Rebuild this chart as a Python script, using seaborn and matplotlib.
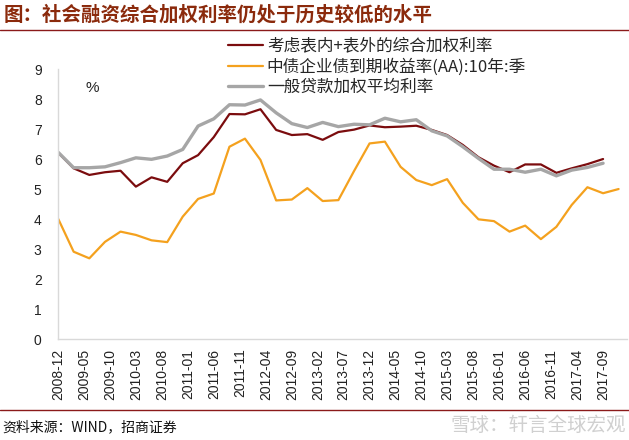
import matplotlib
matplotlib.use("Agg")
import matplotlib.pyplot as plt
from matplotlib.lines import Line2D
import pandas as pd
import seaborn as sns

# quarterly data, 2008-12 .. 2017-12
quarters = pd.date_range("2008-12-01", "2017-12-01", freq="3MS")

total_rate = [6.21, 5.69, 5.47, 5.56, 5.61, 5.08, 5.39, 5.24, 5.86, 6.13,
              6.73, 7.50, 7.49, 7.66, 6.97, 6.80, 6.83, 6.64, 6.90, 6.98,
              7.12, 7.06, 7.08, 7.11, 6.97, 6.80, 6.47, 6.06, 5.78, 5.56,
              5.82, 5.82, 5.54, 5.69, 5.83, 6.00]
bond_yield = [4.00, 2.91, 2.69, 3.24, 3.58, 3.47, 3.29, 3.23, 4.08, 4.67,
              4.85, 6.41, 6.68, 5.97, 4.62, 4.65, 5.03, 4.60, 4.63, 5.60,
              6.52, 6.58, 5.74, 5.30, 5.13, 5.33, 4.54, 3.99, 3.93, 3.58,
              3.78, 3.33, 3.74, 4.47, 5.06, 4.86, 5.00]
loan_rate = [6.22, 5.71, 5.71, 5.74, 5.88, 6.04, 5.99, 6.10, 6.32, 7.10,
             7.34, 7.81, 7.80, 7.97, 7.54, 7.18, 7.05, 7.22, 7.08, 7.16,
             7.14, 7.36, 7.24, 7.31, 6.94, 6.77, 6.41, 6.02, 5.66, 5.66,
             5.56, 5.66, 5.44, 5.63, 5.72, 5.86]

labels = ["考虑表内+表外的综合加权利率",
          "中债企业债到期收益率(AA):10年:季",
          "一般贷款加权平均利率"]
colors = ["#7B0C0E", "#F4A11E", "#A6A6A6"]
widths = [1.6, 1.6, 2.4]

tick_dates = pd.date_range("2008-12-01", "2017-09-01", freq="5MS")
tick_labels = [d.strftime("%Y-%m") for d in tick_dates]

sns.set_style("white")
plt.rcParams["font.family"] = ["Noto Sans CJK SC", "DejaVu Sans"]

fig = plt.figure(figsize=(6.29, 4.40), dpi=100)
ax = fig.add_axes([0.0927, 0.2295, 0.9043, 0.6136])

series = [total_rate, bond_yield, loan_rate]
for vals, c, w in zip(series, colors, widths):
    sns.lineplot(x=quarters[:len(vals)], y=vals, color=c, linewidth=w, ax=ax)

ax.set_ylim(0, 9)
ax.set_yticks(range(0, 10))
ax.set_xlim(pd.Timestamp("2008-12-01"), pd.Timestamp("2018-01-20"))
ax.set_xticks(tick_dates)
ax.set_xticklabels(tick_labels, rotation=90, family="Liberation Sans", fontsize=10)
for t in ax.get_yticklabels():
    t.set_family("Liberation Sans")
    t.set_fontsize(10)
ax.set_xlabel("")
ax.set_ylabel("")

for side in ["top", "right"]:
    ax.spines[side].set_visible(False)
for side in ["left", "bottom"]:
    ax.spines[side].set_color("#D9D9D9")
    ax.spines[side].set_linewidth(1.0)
ax.tick_params(axis="both", length=4, color="#D9D9D9", width=1.0,
               direction="out", pad=3, labelcolor="#222222")
ax.tick_params(axis="y", pad=8)

ax.text(0.047, 0.93, "%", transform=ax.transAxes, fontsize=11,
        family="Liberation Sans", va="center", ha="left")

handles = [Line2D([], [], color=c, linewidth=w) for c, w in zip(colors, widths)]
fig.legend(handles, labels, loc="upper left", bbox_to_anchor=(0.362, 0.915),
           frameon=False, fontsize=12, handlelength=2.1, handletextpad=0.25,
           labelspacing=0.22, borderpad=0, borderaxespad=0)

# header / footer
fig.text(0.006, 1 - 15 / 440, "图：社会融资综合加权利率仍处于历史较低的水平",
         fontsize=14, fontweight="bold", color="#8B2A0C", va="center", ha="left")
fig.add_artist(Line2D([0, 1], [1 - 30 / 440, 1 - 30 / 440],
                      color="#8B1A1A", linewidth=1.0))
fig.add_artist(Line2D([0, 1], [1 - 410 / 440, 1 - 410 / 440],
                      color="#8B1A1A", linewidth=1.0))
fig.text(0.004, 1 - 427 / 440, "资料来源：WIND，招商证券", fontsize=10,
         color="#111111", va="center", ha="left")
fig.text(0.995, 1 - 425 / 440, "雪球：轩言全球宏观", fontsize=14,
         color="#D0D0D0", va="center", ha="right")

fig.savefig("out.png", dpi=100)
